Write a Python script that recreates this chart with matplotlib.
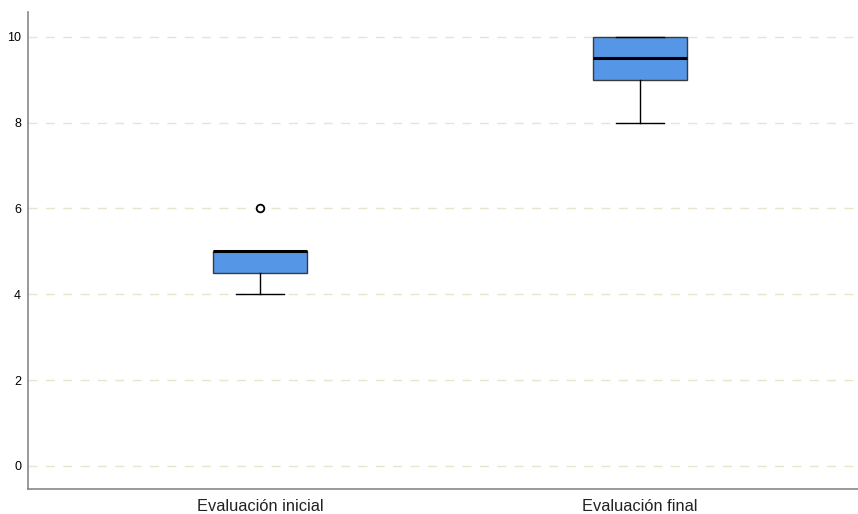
import matplotlib
matplotlib.use("Agg")
import matplotlib.pyplot as plt

categories = ["Evaluación inicial", "Evaluación final"]
whislo = [4.0, 8.0]
q1 = [4.5, 9.0]
med = [5.0, 9.5]
q3 = [5.0, 10.0]
whishi = [5.0, 10.0]
fliers = [[6.0], []]
yticks = [0, 2, 4, 6, 8, 10]

plt.rcParams['font.family'] = ['Liberation Sans', 'DejaVu Sans']

fig = plt.figure(figsize=(8.58, 5.14), dpi=100)
ax = fig.add_axes([28/858, 25/514, 830/858, 477/514])

stats = []
for i, c in enumerate(categories):
    stats.append(dict(label=c, whislo=whislo[i], q1=q1[i], med=med[i], q3=q3[i],
                      whishi=whishi[i], fliers=fliers[i]))

ax.bxp(stats, positions=[1, 2], widths=0.2475, patch_artist=True,
       showfliers=True,
       boxprops=dict(facecolor='#5596E6', edgecolor='#3a3a3a', linewidth=1.0),
       medianprops=dict(color='black', linewidth=2.2),
       whiskerprops=dict(color='black', linewidth=1.0),
       capprops=dict(color='black', linewidth=1.0),
       capwidths=0.127,
       flierprops=dict(marker='o', markersize=5.5, markerfacecolor='white',
                       markeredgecolor='black', markeredgewidth=1.3))

ax.set_xlim(0.389, 2.575)
ax.set_ylim(-0.54, 10.58)
ax.set_yticks(yticks)
ax.set_yticklabels([str(v) for v in yticks], fontsize=9)
ax.set_xticks([1, 2])
ax.set_xticklabels(categories, fontsize=11.8, color='#222222')
ax.tick_params(axis='y', length=0, pad=5, colors='black')
ax.tick_params(axis='x', length=0, pad=7)
ax.yaxis.grid(True, linestyle=(0, (6.5, 6)), color='#EAE4CF', linewidth=1.0)
ax.set_axisbelow(True)
for s in ['top', 'right']:
    ax.spines[s].set_visible(False)
for s in ['left', 'bottom']:
    ax.spines[s].set_color('#888888')
    ax.spines[s].set_linewidth(1.2)

fig.savefig("out.png", dpi=100)
